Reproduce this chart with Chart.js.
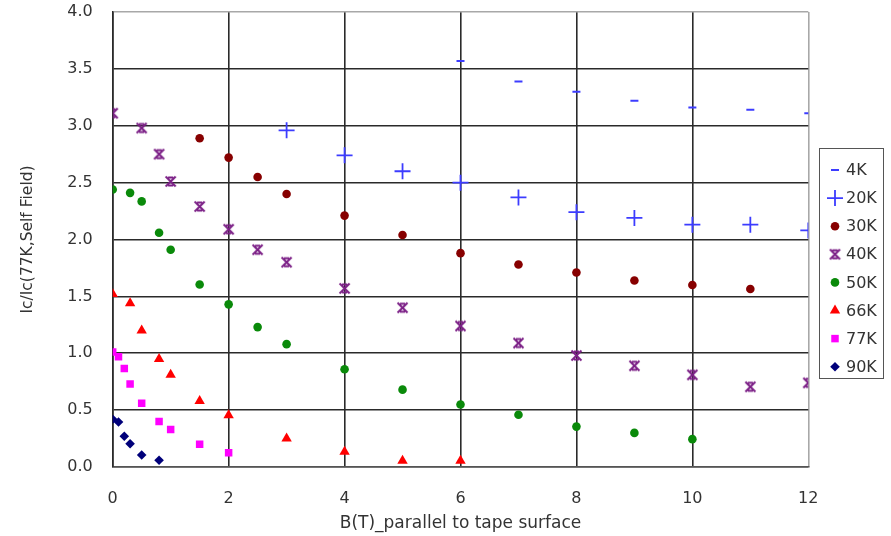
<!DOCTYPE html>
<html>
<head>
<meta charset="utf-8">
<script src="https://cdn.jsdelivr.net/npm/chart.js@4/dist/chart.umd.min.js"></script>
<style>
  html, body { margin: 0; padding: 0; background: #ffffff; }
  #wrap { width: 891px; height: 536px; position: relative; }
</style>
</head>
<body>
<div id="wrap"><canvas id="c" width="891" height="536"></canvas></div>
<script>
// ---- data ----
const xTicks = [0, 2, 4, 6, 8, 10, 12];
const yTicks = [0, 0.5, 1, 1.5, 2, 2.5, 3, 3.5, 4];
const seriesNames = ['4K', '20K', '30K', '40K', '50K', '66K', '77K', '90K'];

const B_4K  = [6, 7, 8, 9, 10, 11, 12];
const v_4K  = [3.57, 3.39, 3.30, 3.22, 3.16, 3.14, 3.11];
const B_20K = [3, 4, 5, 6, 7, 8, 9, 10, 11, 12];
const v_20K = [2.96, 2.74, 2.60, 2.50, 2.37, 2.24, 2.19, 2.13, 2.13, 2.08];
const B_30K = [1.5, 2, 2.5, 3, 4, 5, 6, 7, 8, 9, 10, 11];
const v_30K = [2.89, 2.72, 2.55, 2.40, 2.21, 2.04, 1.88, 1.78, 1.71, 1.64, 1.60, 1.565];
const B_40K = [0, 0.5, 0.8, 1, 1.5, 2, 2.5, 3, 4, 5, 6, 7, 8, 9, 10, 11, 12];
const v_40K = [3.11, 2.98, 2.75, 2.51, 2.29, 2.09, 1.91, 1.80, 1.57, 1.40, 1.24, 1.09, 0.98, 0.89, 0.81, 0.705, 0.74];
const B_50K = [0, 0.3, 0.5, 0.8, 1, 1.5, 2, 2.5, 3, 4, 5, 6, 7, 8, 9, 10];
const v_50K = [2.44, 2.41, 2.335, 2.06, 1.91, 1.605, 1.43, 1.23, 1.08, 0.86, 0.68, 0.55, 0.46, 0.355, 0.30, 0.245];
const B_66K = [0, 0.3, 0.5, 0.8, 1, 1.5, 2, 3, 4, 5, 6];
const v_66K = [1.52, 1.44, 1.20, 0.95, 0.81, 0.58, 0.455, 0.25, 0.135, 0.055, 0.055];
const B_77K = [0, 0.1, 0.2, 0.3, 0.5, 0.8, 1, 1.5, 2];
const v_77K = [1.01, 0.97, 0.865, 0.73, 0.56, 0.40, 0.33, 0.20, 0.125];
const B_90K = [0, 0.1, 0.2, 0.3, 0.5, 0.8];
const v_90K = [0.42, 0.395, 0.27, 0.205, 0.105, 0.06];

// ---- helpers ----
function pts(xs, ys) { return xs.map((x, i) => ({ x: x, y: ys[i] })); }

// custom marker for 40K: an "x" with short bars on top and bottom
function makeXBar(color) {
  const c = document.createElement('canvas');
  c.width = 13; c.height = 13;
  const g = c.getContext('2d');
  g.strokeStyle = color; g.lineWidth = 2; g.lineCap = 'butt';
  g.beginPath();
  g.moveTo(1.5, 1.5); g.lineTo(11.5, 11.5);
  g.moveTo(11.5, 1.5); g.lineTo(1.5, 11.5);
  g.moveTo(4, 2.5); g.lineTo(9, 2.5);
  g.moveTo(4, 10.5); g.lineTo(9, 10.5);
  g.stroke();
  return c;
}

const COL = {
  k4: '#3c3cff', k20: '#3c3cff', k30: '#870000', k40: '#7b1f86',
  k50: '#0a8a0a', k66: '#ff0000', k77: '#ff00ff', k90: '#00007a'
};

const datasets = [
  { label: seriesNames[0], data: pts(B_4K, v_4K), pointStyle: 'line', pointRadius: 4, pointBorderWidth: 2,
    pointBorderColor: COL.k4, pointBackgroundColor: COL.k4, borderColor: COL.k4, backgroundColor: COL.k4 },
  { label: seriesNames[1], data: pts(B_20K, v_20K), pointStyle: 'cross', pointRadius: 8, pointBorderWidth: 1.8,
    pointBorderColor: COL.k20, pointBackgroundColor: COL.k20, borderColor: COL.k20, backgroundColor: COL.k20 },
  { label: seriesNames[2], data: pts(B_30K, v_30K), pointStyle: 'circle', pointRadius: 4.3, pointBorderWidth: 0,
    pointBorderColor: COL.k30, pointBackgroundColor: COL.k30, borderColor: COL.k30, backgroundColor: COL.k30 },
  { label: seriesNames[3], data: pts(B_40K, v_40K), pointStyle: makeXBar(COL.k40), pointRadius: 6, pointBorderWidth: 0,
    pointBorderColor: COL.k40, pointBackgroundColor: COL.k40, borderColor: COL.k40, backgroundColor: COL.k40 },
  { label: seriesNames[4], data: pts(B_50K, v_50K), pointStyle: 'circle', pointRadius: 4.3, pointBorderWidth: 0,
    pointBorderColor: COL.k50, pointBackgroundColor: COL.k50, borderColor: COL.k50, backgroundColor: COL.k50 },
  { label: seriesNames[5], data: pts(B_66K, v_66K), pointStyle: 'triangle', pointRadius: 6, pointBorderWidth: 0,
    pointBorderColor: COL.k66, pointBackgroundColor: COL.k66, borderColor: COL.k66, backgroundColor: COL.k66 },
  { label: seriesNames[6], data: pts(B_77K, v_77K), pointStyle: 'rect', pointRadius: 5.3, pointBorderWidth: 0,
    pointBorderColor: COL.k77, pointBackgroundColor: COL.k77, borderColor: COL.k77, backgroundColor: COL.k77 },
  { label: seriesNames[7], data: pts(B_90K, v_90K), pointStyle: 'rectRot', pointRadius: 4.8, pointBorderWidth: 0,
    pointBorderColor: COL.k90, pointBackgroundColor: COL.k90, borderColor: COL.k90, backgroundColor: COL.k90 }
];

const FONT = "'DejaVu Sans', 'Liberation Sans', sans-serif";
const TXT = '#333333';

// boxed legend at the right, like the reference
const boxLegend = {
  id: 'boxLegend',
  afterDraw(chart) {
    const ctx = chart.ctx;
    const L = 819, T = 148, R = 883, B = 378;
    ctx.save();
    ctx.strokeStyle = '#555555';
    ctx.lineWidth = 1;
    ctx.strokeRect(L + 0.5, T + 0.5, R - L, B - T);
    const step = 28.1;
    chart.data.datasets.forEach((ds, i) => {
      const y = 170 + i * step;
      const mx = 835;
      ctx.save();
      ctx.fillStyle = ds.pointBackgroundColor;
      ctx.strokeStyle = ds.pointBorderColor;
      ctx.lineWidth = ds.pointBorderWidth || 0;
      const opts = { pointStyle: ds.pointStyle, rotation: 0, radius: ds.pointRadius, borderWidth: ds.pointBorderWidth };
      if (Chart.helpers && Chart.helpers.drawPoint) {
        Chart.helpers.drawPoint(ctx, opts, mx, y);
      }
      ctx.restore();
      ctx.fillStyle = TXT;
      ctx.font = '16px ' + FONT;
      ctx.textBaseline = 'middle';
      ctx.textAlign = 'left';
      ctx.fillText(ds.label, 846, y + 1);
    });
    ctx.restore();
  }
};

new Chart(document.getElementById('c'), {
  type: 'scatter',
  data: { datasets: datasets },
  plugins: [boxLegend],
  options: {
    responsive: false,
    animation: false,
    devicePixelRatio: 1,
    layout: { padding: { top: 12, right: 82.7, bottom: 0, left: 0 } },
    plugins: { legend: { display: false }, tooltip: { enabled: false } },
    scales: {
      x: {
        type: 'linear', min: 0, max: 12,
        afterBuildTicks(s) { s.ticks = xTicks.map(v => ({ value: v })); },
        afterFit(s) { s.height = 69; s.paddingLeft = 0; s.paddingRight = 0; },
        grid: {
          drawTicks: false,
          lineWidth: 1.6,
          color: ctx => (ctx.tick && ctx.tick.value === 12) ? '#a8a8a8' : '#2a2a2a'
        },
        border: { display: true, color: '#555555', width: 1.6 },
        ticks: { padding: 22, color: TXT, font: { family: FONT, size: 16 }, maxRotation: 0, autoSkip: false },
        title: { display: true, text: 'B(T)_parallel to tape surface', color: TXT,
                 font: { family: FONT, size: 17 }, padding: { top: 0, bottom: 2 } }
      },
      y: {
        type: 'linear', min: 0, max: 4,
        afterBuildTicks(s) { s.ticks = yTicks.map(v => ({ value: v })); },
        afterFit(s) { s.width = 112.7; s.paddingTop = 0; s.paddingBottom = 0; },
        grid: {
          drawTicks: false,
          lineWidth: 1.6,
          color: ctx => (ctx.tick && ctx.tick.value === 4) ? '#a8a8a8' : '#2a2a2a'
        },
        border: { display: true, color: '#2a2a2a', width: 1.6 },
        ticks: { padding: 20, color: TXT, font: { family: FONT, size: 16 },
                 callback: v => Number(v).toFixed(1), autoSkip: false },
        title: { display: true, text: 'Ic/Ic(77K,Self Field)', color: TXT,
                 font: { family: FONT, size: 15.5 }, padding: { top: 19, bottom: 0 } }
      }
    }
  }
});
</script>
</body>
</html>
